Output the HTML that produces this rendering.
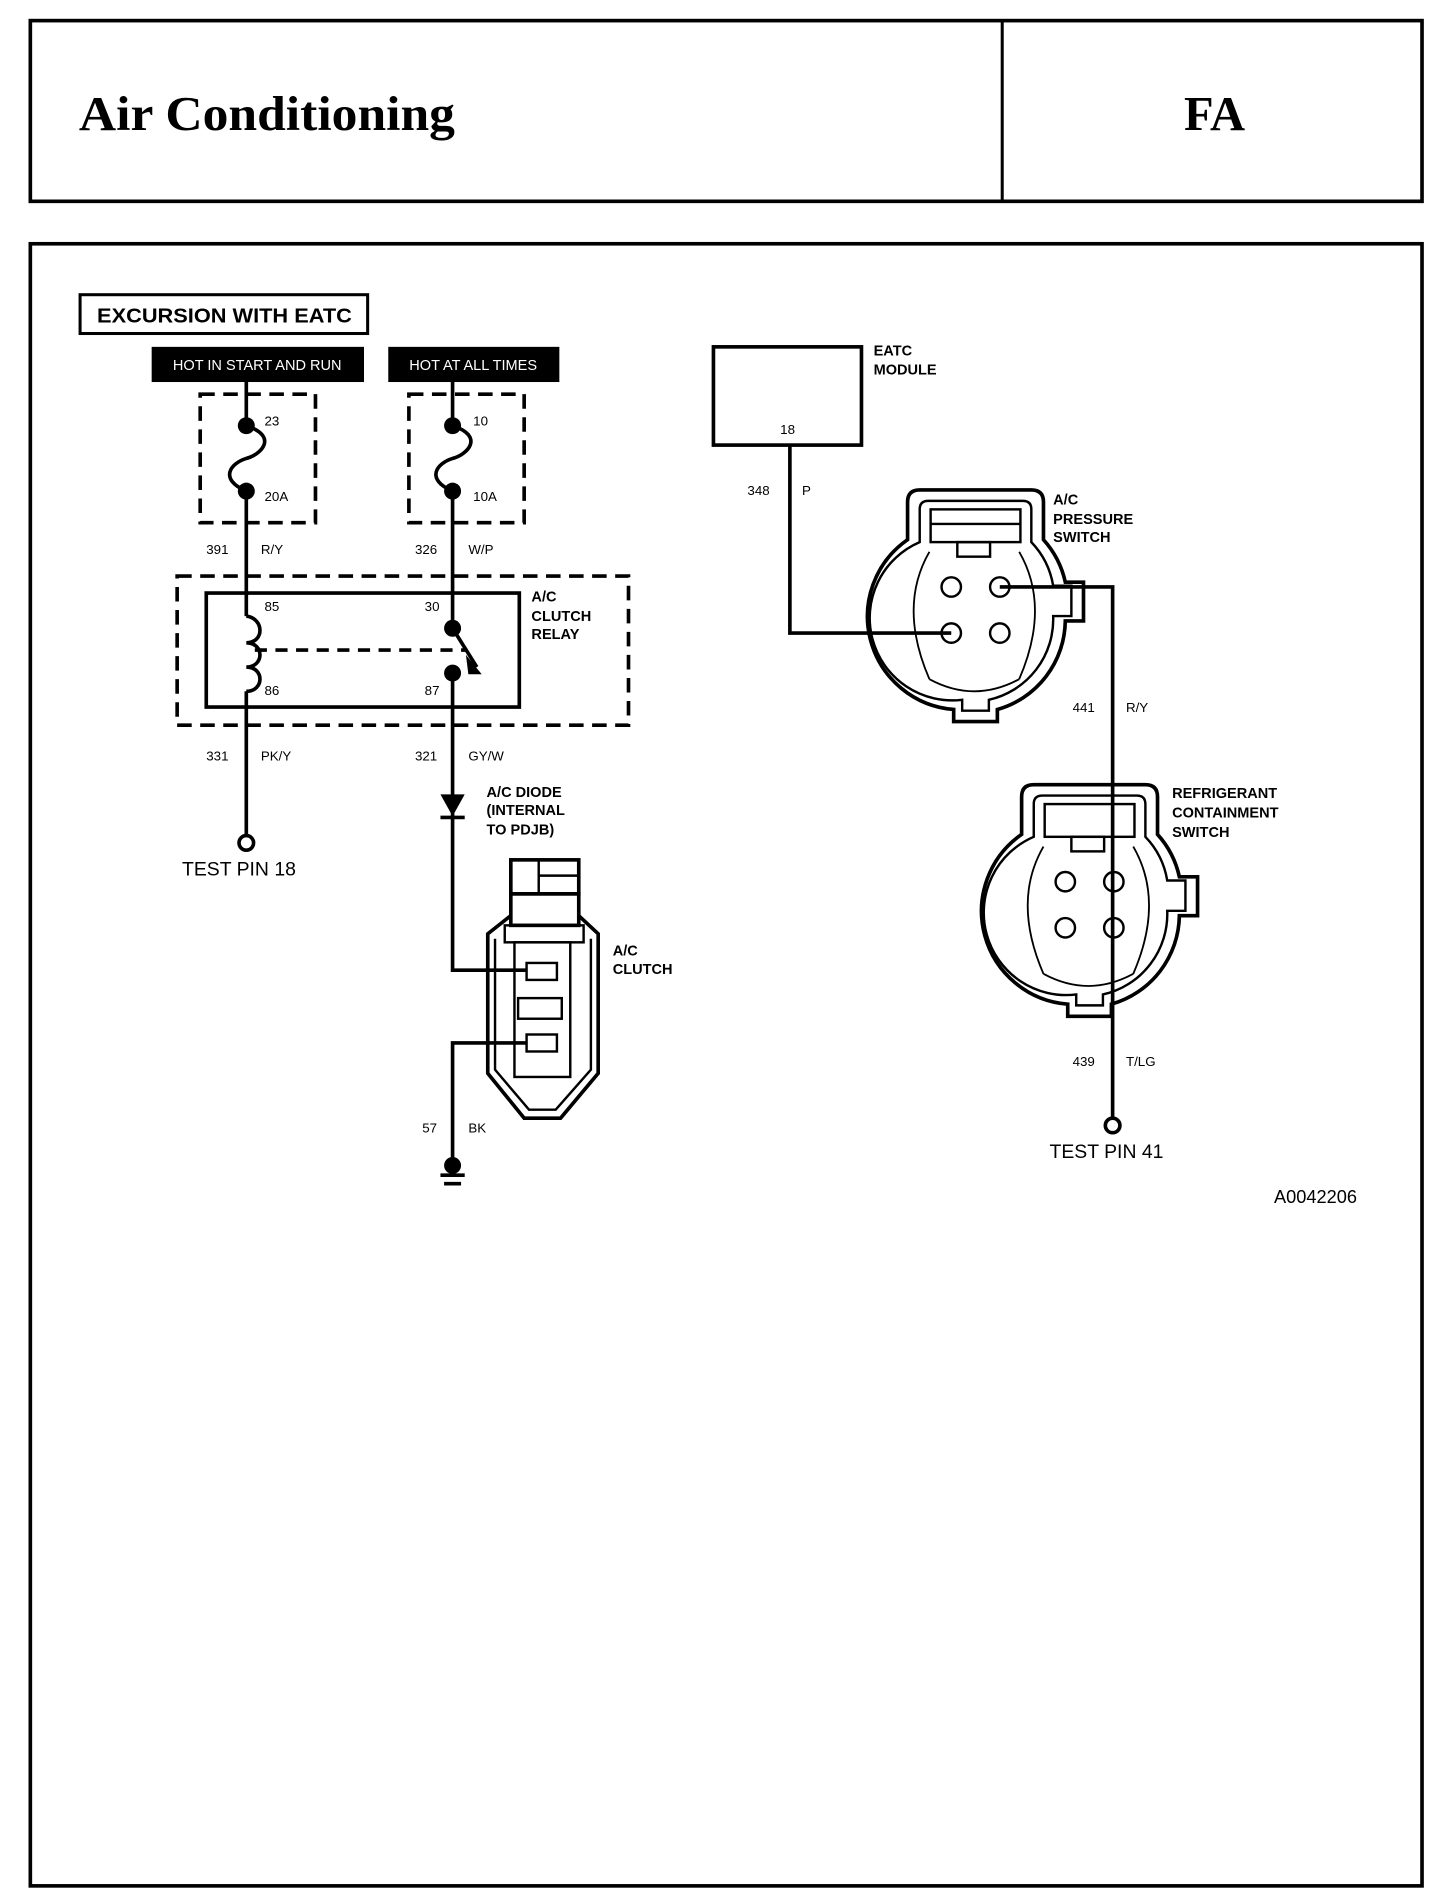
<!DOCTYPE html>
<html><head><meta charset="utf-8"><style>
html,body{margin:0;padding:0;background:#fff}
svg{display:block}
text{font-family:"Liberation Sans",sans-serif;fill:#000}
.b{font-weight:bold}
</style></head><body>
<svg width="1456" height="1898" viewBox="0 0 1200 1565" preserveAspectRatio="none" xmlns="http://www.w3.org/2000/svg">
<g fill="none" stroke="#000">
<rect x="25" y="17" width="1147" height="149" stroke-width="3"/>
<line x1="826" y1="17" x2="826" y2="166" stroke-width="2.5"/>
<rect x="25" y="201" width="1147" height="1354" stroke-width="3"/>
<rect x="66" y="243" width="237" height="32" stroke-width="2.5"/>
</g>
<text x="65" y="107" style="font-family:'Liberation Serif',serif;font-weight:bold;font-size:40px" textLength="310" lengthAdjust="spacingAndGlyphs">Air  Conditioning</text>
<text x="1001" y="107" text-anchor="middle" style="font-family:'Liberation Serif',serif;font-weight:bold;font-size:40px">FA</text>
<text x="80" y="266" class="b" font-size="17" textLength="210" lengthAdjust="spacingAndGlyphs">EXCURSION WITH EATC</text>

<rect x="125" y="286" width="175" height="29" fill="#000"/>
<rect x="320" y="286" width="141" height="29" fill="#000"/>
<text x="212" y="305" text-anchor="middle" font-size="12" style="fill:#fff">HOT IN START AND RUN</text>
<text x="390" y="305" text-anchor="middle" font-size="12" style="fill:#fff">HOT AT ALL TIMES</text>

<g fill="none" stroke="#000" stroke-width="3" stroke-dasharray="12,7">
<rect x="165" y="325" width="95" height="106"/>
<rect x="337" y="325" width="95" height="106"/>
<rect x="146" y="475" width="372" height="123"/>
</g>
<rect x="170" y="489" width="258" height="94" fill="none" stroke="#000" stroke-width="3"/>
<line x1="210" y1="536" x2="385" y2="536" stroke="#000" stroke-width="3" stroke-dasharray="10,7"/>

<g fill="none" stroke="#000" stroke-width="3">
<!-- left wire -->
<path d="M203 315 V351 M203 405 V508 M203 570 V688"/>
<path d="M203 351 C230 360 215 375 203 378 C190 382 180 395 203 405"/>
<path d="M373 315 V351 M373 405 V518 M373 555 V800 H434"/>
<path d="M373 351 C400 360 385 375 373 378 C360 382 350 395 373 405"/>
<path d="M203 508 C218 510 218 530 203 530 C218 530 218 550 203 550 C218 550 218 570 203 570"/>
<path d="M373 518 L393 550"/>
<path d="M434 860 H373 V955"/>
<!-- eatc -->
<rect x="588" y="286" width="122" height="81"/>
<path d="M651 367 V522 H784"/>
<path d="M824 484 H917 V766"/>
<path d="M917 766 V922"/>
</g>
<path d="M384 540 L397 556 L386 556 Z" fill="#000"/>
<g fill="#000">
<circle cx="203" cy="351" r="7"/><circle cx="203" cy="405" r="7"/>
<circle cx="373" cy="351" r="7"/><circle cx="373" cy="405" r="7"/>
<circle cx="373" cy="518" r="7"/><circle cx="373" cy="555" r="7"/>
<circle cx="373" cy="961" r="7"/>
<path d="M363 655 H383 L373 673 Z"/>
</g>
<g stroke="#000" stroke-width="3">
<line x1="363" y1="674" x2="383" y2="674"/>
<line x1="363" y1="969" x2="383" y2="969"/>
<line x1="366" y1="976" x2="380" y2="976"/>
</g>
<circle cx="203" cy="695" r="6" fill="#fff" stroke="#000" stroke-width="3"/>
<circle cx="917" cy="928" r="6" fill="#fff" stroke="#000" stroke-width="3"/>

<!-- clutch connector -->
<g fill="none" stroke="#000">
<rect x="421" y="709" width="56" height="28" stroke-width="3"/>
<path d="M444 709 V737 M444 722 H477" stroke-width="2"/>
<rect x="421" y="737" width="56" height="26" stroke-width="3"/>
<path d="M421 755 L402 770 V885 L432 922 H462 L493 885 V770 L477 755" stroke-width="3"/>
<path d="M408 774 V882 L436 915 H458 L487 882 V774" stroke-width="2"/>
<rect x="416" y="763" width="65" height="14" stroke-width="2"/>
<rect x="424" y="777" width="46" height="111" stroke-width="2"/>
<rect x="434" y="794" width="25" height="14" stroke-width="2"/>
<rect x="427" y="823" width="36" height="17" stroke-width="2"/>
<rect x="434" y="853" width="25" height="14" stroke-width="2"/>
</g>

<!-- pressure switch -->
<g fill="none" stroke="#000">
<path d="M748 445 V414 Q748 404 758 404 H850 Q860 404 860 414 V445 A77 77 0 0 1 878 480 H893 V512 H878 A77 77 0 0 1 822 585 V595 H786 V585 A77 77 0 0 1 748 445 Z" stroke-width="3"/>
<path d="M758 447 V420 Q758 413 765 413 H843 Q850 413 850 420 V447 A68 68 0 0 1 868 483 H883 V508 H868 A68 68 0 0 1 815 577 V586 H793 V577 A68 68 0 0 1 758 447 Z" stroke-width="2"/>
<rect x="767" y="420" width="74" height="27" stroke-width="2"/>
<line x1="767" y1="432" x2="841" y2="432" stroke-width="2"/>
<rect x="789" y="447" width="27" height="12" stroke-width="2"/>
<path d="M766 455 Q740 500 766 560 M840 455 Q866 500 840 560 M766 560 Q803 580 840 560" stroke-width="1.5"/>
<circle cx="784" cy="484" r="8" stroke-width="2"/><circle cx="824" cy="484" r="8" stroke-width="2"/>
<circle cx="784" cy="522" r="8" stroke-width="2"/><circle cx="824" cy="522" r="8" stroke-width="2"/>
</g>
<!-- refrigerant switch -->
<g fill="none" stroke="#000" transform="translate(94,243)">
<path d="M748 445 V414 Q748 404 758 404 H850 Q860 404 860 414 V445 A77 77 0 0 1 878 480 H893 V512 H878 A77 77 0 0 1 822 585 V595 H786 V585 A77 77 0 0 1 748 445 Z" stroke-width="3"/>
<path d="M758 447 V420 Q758 413 765 413 H843 Q850 413 850 420 V447 A68 68 0 0 1 868 483 H883 V508 H868 A68 68 0 0 1 815 577 V586 H793 V577 A68 68 0 0 1 758 447 Z" stroke-width="2"/>
<rect x="767" y="420" width="74" height="27" stroke-width="2"/>
<rect x="789" y="447" width="27" height="12" stroke-width="2"/>
<path d="M766 455 Q740 500 766 560 M840 455 Q866 500 840 560 M766 560 Q803 580 840 560" stroke-width="1.5"/>
<circle cx="784" cy="484" r="8" stroke-width="2"/><circle cx="824" cy="484" r="8" stroke-width="2"/>
<circle cx="784" cy="522" r="8" stroke-width="2"/><circle cx="824" cy="522" r="8" stroke-width="2"/>
</g>

<g font-size="11">
<text x="218" y="351">23</text><text x="218" y="413">20A</text>
<text x="390" y="351">10</text><text x="390" y="413">10A</text>
<text x="170" y="457">391</text><text x="215" y="457">R/Y</text>
<text x="342" y="457">326</text><text x="386" y="457">W/P</text>
<text x="218" y="504">85</text><text x="350" y="504">30</text>
<text x="218" y="573">86</text><text x="350" y="573">87</text>
<text x="170" y="627">331</text><text x="215" y="627">PK/Y</text>
<text x="342" y="627">321</text><text x="386" y="627">GY/W</text>
<text x="348" y="934">57</text><text x="386" y="934">BK</text>
<text x="643" y="358">18</text>
<text x="616" y="408">348</text><text x="661" y="408">P</text>
<text x="884" y="587">441</text><text x="928" y="587">R/Y</text>
<text x="884" y="879">439</text><text x="928" y="879">T/LG</text>
</g>
<g font-size="12" class="b">
<text x="438" y="496">A/C</text><text x="438" y="512">CLUTCH</text><text x="438" y="527">RELAY</text>
<text x="401" y="657">A/C DIODE</text><text x="401" y="672">(INTERNAL</text><text x="401" y="688">TO PDJB)</text>
<text x="505" y="788">A/C</text><text x="505" y="803">CLUTCH</text>
<text x="720" y="293">EATC</text><text x="720" y="309">MODULE</text>
<text x="868" y="416">A/C</text><text x="868" y="432">PRESSURE</text><text x="868" y="447">SWITCH</text>
<text x="966" y="658">REFRIGERANT</text><text x="966" y="674">CONTAINMENT</text><text x="966" y="690">SWITCH</text>
</g>
<text x="150" y="722" font-size="16">TEST PIN 18</text>
<text x="865" y="955" font-size="16">TEST PIN 41</text>
<text x="1050" y="992" font-size="15">A0042206</text>
</svg>
</body></html>
